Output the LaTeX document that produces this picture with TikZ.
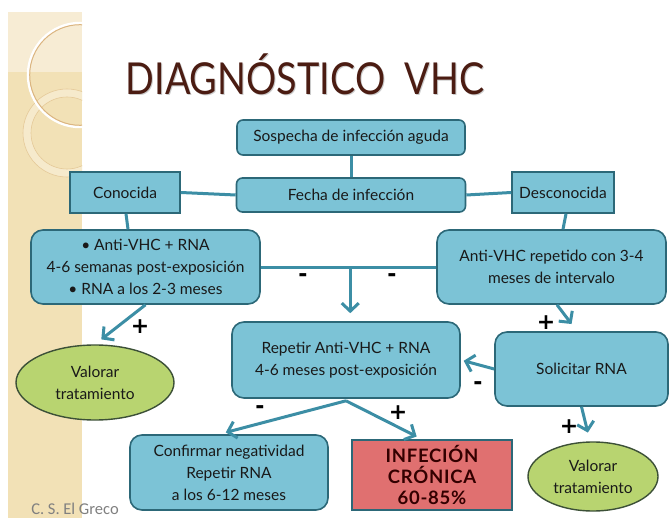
\documentclass[tikz,border=0pt]{standalone}
\usepackage{fontspec}
\setmainfont{Lato}
\newfontfamily\calibri{Carlito}
\newfontfamily\titlefont[FakeStretch=0.86]{Lato}
\newfontfamily\redfont[LetterSpace=4]{Lato}
\newfontfamily\signfont{DejaVu Sans}
\usetikzlibrary{arrows.meta,shapes.geometric,calc}
\definecolor{boxfill}{RGB}{124,195,214}
\definecolor{boxedge}{RGB}{44,104,120}
\definecolor{conn}{RGB}{60,142,165}
\definecolor{ellfill}{RGB}{184,212,112}
\definecolor{elledge}{RGB}{60,80,55}
\definecolor{redfill}{RGB}{224,112,112}
\definecolor{titlecol}{RGB}{75,28,18}
\definecolor{beige}{RGB}{242,225,182}
\definecolor{beigelight}{RGB}{247,236,212}
\definecolor{txt}{RGB}{25,25,25}
\tikzset{
  box/.style={draw=boxedge, line width=1.6pt, fill=boxfill, rounded corners=#1,
    align=center, text=txt, inner sep=0pt, font=\fontsize{15.5}{22}\selectfont},
  box/.default=6pt,
  sqbox/.style={draw=boxedge, line width=1.6pt, fill=boxfill, align=center, text=txt,
    inner sep=0pt, font=\fontsize{15.5}{22}\selectfont},
  ell/.style={ellipse, draw=elledge, line width=1.4pt, fill=ellfill, align=center,
    text=txt, inner sep=0pt, font=\fontsize{15.5}{22}\selectfont},
  link/.style={draw=conn, line width=3pt},
  arr/.style={draw=conn, line width=3pt, -{Straight Barb[length=8pt,width=17pt,line width=3pt]}},
  sign/.style={font=\signfont\bfseries\fontsize{22}{22}\selectfont, text=black}
}
\begin{document}
\begin{tikzpicture}[x=1pt,y=-1pt]
\useasboundingbox (0,0) rectangle (672,518);
\fill[white] (0,0) rectangle (672,518);
% decorative strip
\begin{scope}
\clip (8,12) rectangle (82,518);
\fill[beige] (8,12) rectangle (82,518);
\fill[beigelight] (8,12) rectangle (82,72);
\draw[line width=8pt, beige!70!white] (67,133) circle (40);
\draw[line width=0.6pt, beige!75!brown] (67,133) circle (44);
\draw[line width=0.6pt, beige!75!brown] (67,133) circle (36);
\draw[line width=2.5pt, white] (80,75) circle (52);
\draw[line width=1pt, beige!55!brown] (80,75) circle (50.3);
\end{scope}
% title
\node[text=gray!40, font=\titlefont\fontsize{44}{44}\selectfont] at (306,75.5) {DIAGN\'OSTICO\ \ VHC};
\node (title) [text=titlecol, font=\titlefont\fontsize{44}{44}\selectfont] at (305,74.5) {DIAGN\'OSTICO\ \ VHC};
% nodes
\node (sosp) [box, minimum width=228pt, minimum height=35pt] at (351,137.5) {Sospecha de infección aguda};
\node (fecha) [box, minimum width=229pt, minimum height=34pt] at (351,195) {Fecha de infección};
\node (con) [sqbox, minimum width=110pt, minimum height=41pt] at (125,192.5) {Conocida};
\node (desc) [sqbox, minimum width=102pt, minimum height=41pt] at (563,192.5) {Desconocida};
\node (anti) [box=12pt, minimum width=229pt, minimum height=74pt] at (145.5,267)
  {\textbullet\ Anti-VHC + RNA\\4-6 semanas post-exposición\\\textbullet\ RNA a los 2-3 meses};
\node (antirep) [box=12pt, minimum width=229pt, minimum height=74pt] at (551.5,267)
  {Anti-VHC repetido con 3-4\\meses de intervalo};
\node (rep) [box=12pt, minimum width=228pt, minimum height=76pt] at (346,360)
  {Repetir Anti-VHC + RNA\\4-6 meses post-exposición};
\node (sol) [box=12pt, minimum width=173pt, minimum height=74pt] at (581.5,369) {Solicitar RNA};
\node (valL) [ell, minimum width=158pt, minimum height=75pt] at (95,382.5) {Valorar\\tratamiento};
\node (conf) [box=12pt, minimum width=198pt, minimum height=75pt] at (229,472.5)
  {Confirmar negatividad\\Repetir RNA\\a los 6-12 meses};
\node (inf) [draw=boxedge, line width=1.6pt, fill=redfill, minimum width=160pt, minimum height=70pt,
  align=center, inner sep=0pt, text=black!80!red, font=\redfont\bfseries\fontsize{18.5}{21}\selectfont] at (432,475)
  {INFECIÓN\\CRÓNICA\\60-85\%};
\node (valR) [ell, minimum width=130pt, minimum height=69pt] at (593,476.5) {Valorar\\tratamiento};
\node (sig) [text=gray, font=\calibri\fontsize{16.5}{16.5}\selectfont] at (75,509) {C. S. El Greco};
% connectors
\draw[link] (sosp) -- (fecha);
\draw[link] (fecha.west) -- (con.east);
\draw[link] (fecha.east) -- (desc.west);
\draw[link] ([xshift=1pt]con.south) -- ([xshift=-17.5pt]anti.north);
\draw[link] ([xshift=3pt]desc.south) -- ([xshift=11.5pt]antirep.north);
\draw[link] ([yshift=-1pt]anti.east) -- ([yshift=-1pt]antirep.west);
\coordinate (j) at ($([yshift=-1pt]anti.east)!0.51!([yshift=-1pt]antirep.west)$);
\draw[arr, shorten >=8pt] (j) -- (j |- rep.north);
\draw[arr, shorten >=8pt] (anti.south) -- (valL.north);
\draw[arr, shorten >=9pt] ([xshift=5.5pt]antirep.south) -- ([xshift=-4.5pt]sol.north);
\draw[arr, shorten >=3pt] (sol.west) -- (rep.east);
\draw[arr, shorten >=9pt] (sol.south) -- ([xshift=-3pt]valR.north);
\draw[arr, shorten >=7pt] ([yshift=-2pt]rep.south) -- ([xshift=-10pt]conf.north);
\draw[arr, shorten >=6pt] ([yshift=-2pt]rep.south) -- ([xshift=-10pt]inf.north);
% signs
\node[sign] at (303,278) {-};
\node[sign] at (392,278) {-};
\node[sign] at (140,327) {+};
\node[sign] at (546,323) {+};
\node[sign] at (478,386) {-};
\node[sign] at (569,427) {+};
\node[sign] at (260,410) {-};
\node[sign] at (398,413) {+};
\end{tikzpicture}
\end{document}
